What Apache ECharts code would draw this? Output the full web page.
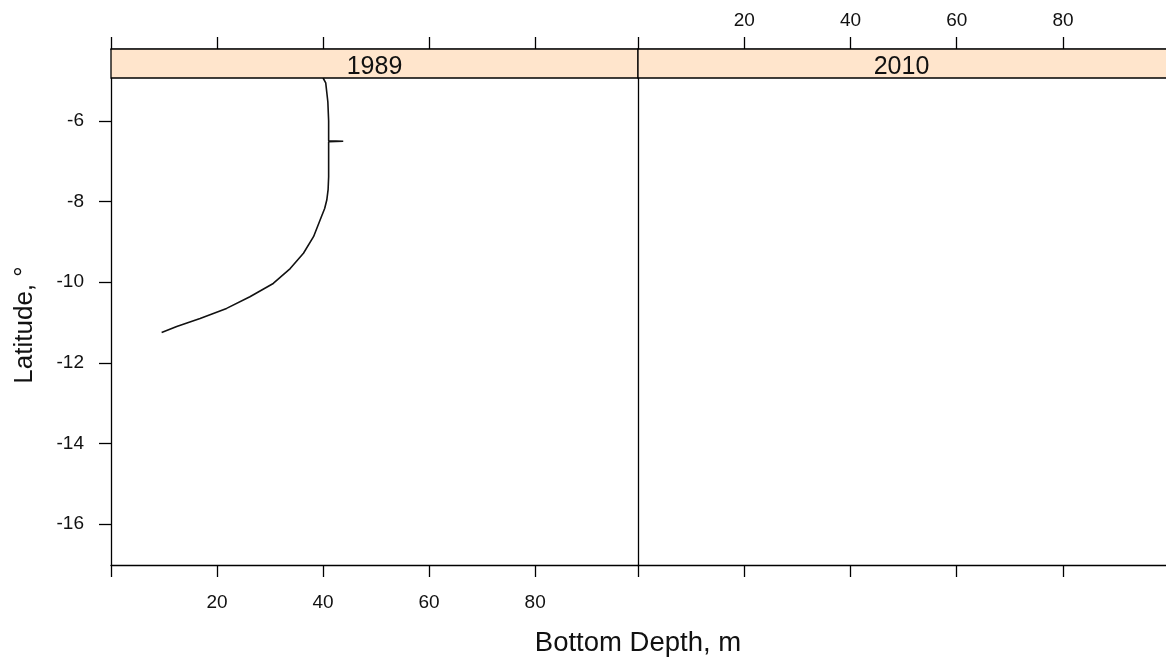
<!DOCTYPE html>
<html>
<head>
<meta charset="utf-8">
<script src="https://cdn.jsdelivr.net/npm/echarts@6/dist/echarts.min.js"></script>
<style>html,body{margin:0;padding:0;background:#fff}#c{width:1166px;height:659px}</style>
</head>
<body>
<div id="c"></div>
<script>
// ---- data ----
const panels = ['1989', '2010'];
const depth1989 = [40.0, 40.5, 40.9, 41.05, 41.05, 43.8, 41.05, 41.05, 40.95, 40.7, 40.3, 39.7, 38.2, 36.3, 33.8, 30.6, 26.2, 21.8, 16.8, 12.4, 9.55];
const lat1989   = [-4.93, -5.05, -5.52, -6.0, -6.49, -6.50, -6.51, -7.38, -7.70, -7.96, -8.17, -8.37, -8.87, -9.28, -9.66, -10.03, -10.36, -10.65, -10.90, -11.10, -11.25];
const depth2010 = [];
const lat2010 = [];
const xTicks = [0, 20, 40, 60, 80];
const xLabels = [20, 40, 60, 80];
const yTicks = [-16, -14, -12, -10, -8, -6];
const xRange = [0, 99.4];
const yRange = [-17.02, -4.93];
const xTitle = 'Bottom Depth, m';
const yTitle = 'Latitude, °';

// ---- chart ----
const FONT = 'Liberation Sans, Arial, sans-serif';
const chart = echarts.init(document.getElementById('c'));
const L = 111, T = 78, W = 527, H = 487, STRIP = 29;
const lineStyle = {color: '#000', width: 1.3};
function xAxis(grid, pos, offset, labels) {
  return {
    type: 'value', gridIndex: grid, position: pos, offset: offset,
    min: xRange[0], max: xRange[1],
    axisLine: {show: true, onZero: false, lineStyle: lineStyle},
    axisTick: {show: true, length: 12, customValues: xTicks, lineStyle: lineStyle},
    axisLabel: labels ? {show: true, customValues: xLabels, color: '#111', fontSize: 19, fontFamily: FONT,
                         margin: pos === 'top' ? 19 : 28} : {show: false},
    splitLine: {show: false}
  };
}
const zip = (a, b) => a.map((v, i) => [v, b[i]]);
chart.setOption({
  animation: false,
  grid: [
    {left: L, top: T, width: W, height: H},
    {left: L + W, top: T, width: W + 4, height: H}
  ],
  xAxis: [
    xAxis(0, 'bottom', 0, true),
    xAxis(0, 'top', STRIP, false),
    xAxis(1, 'bottom', 0, false),
    xAxis(1, 'top', STRIP, true)
  ],
  yAxis: [0, 1].map(g => ({
    type: 'value', gridIndex: g, position: 'left',
    min: yRange[0], max: yRange[1],
    axisLine: {show: true, onZero: false, lineStyle: lineStyle},
    axisTick: {show: g === 0, length: 12, customValues: yTicks, lineStyle: lineStyle},
    axisLabel: g === 0 ? {show: true, customValues: yTicks, color: '#111', fontSize: 19, fontFamily: FONT, margin: 27} : {show: false},
    splitLine: {show: false}
  })),
  series: [
    {type: 'line', xAxisIndex: 0, yAxisIndex: 0, data: zip(depth1989, lat1989), showSymbol: false,
     lineStyle: {color: '#111', width: 1.6}, clip: true},
    {type: 'line', xAxisIndex: 2, yAxisIndex: 1, data: zip(depth2010, lat2010), showSymbol: false,
     lineStyle: {color: '#111', width: 1.6}}
  ],
  graphic: [
    {type: 'rect', shape: {x: L, y: T - STRIP, width: W, height: STRIP}, style: {fill: '#FFE5CC', stroke: '#000', lineWidth: 1.3}, z: 10},
    {type: 'rect', shape: {x: L + W, y: T - STRIP, width: W + 4, height: STRIP}, style: {fill: '#FFE5CC', stroke: '#000', lineWidth: 1.3}, z: 10},
    {type: 'text', x: L + W / 2, y: T - STRIP / 2 + 4, style: {text: panels[0], fill: '#111', font: '25px ' + FONT, textAlign: 'center', textVerticalAlign: 'middle'}, z: 11},
    {type: 'text', x: L + W * 1.5, y: T - STRIP / 2 + 4, style: {text: panels[1], fill: '#111', font: '25px ' + FONT, textAlign: 'center', textVerticalAlign: 'middle'}, z: 11},
    {type: 'text', x: L + W, y: 643, style: {text: xTitle, fill: '#111', font: '27.5px ' + FONT, textAlign: 'center', textVerticalAlign: 'middle'}},
    {type: 'text', x: 25, y: 325, rotation: Math.PI / 2, style: {text: yTitle, fill: '#111', font: '26px ' + FONT, textAlign: 'center', textVerticalAlign: 'middle'}}
  ]
});
</script>
</body>
</html>
